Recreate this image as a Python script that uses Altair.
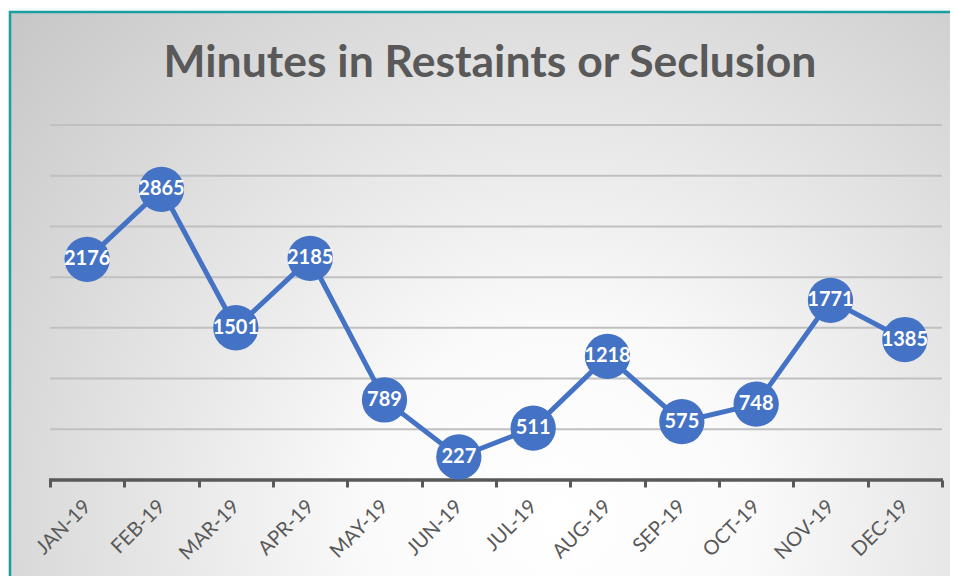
import altair as alt
import pandas as pd

months = ["JAN-19", "FEB-19", "MAR-19", "APR-19", "MAY-19", "JUN-19",
          "JUL-19", "AUG-19", "SEP-19", "OCT-19", "NOV-19", "DEC-19"]
minutes = [2176, 2865, 1501, 2185, 789, 227, 511, 1218, 575, 748, 1771, 1385]
grid_values = [500, 1000, 1500, 2000, 2500, 3000, 3500]
title_text = "Minutes in Restaints or Seclusion"

df = pd.DataFrame({"month": months, "minutes": minutes})
gdf = pd.DataFrame({"g": grid_values})

W, H = 892, 355
BLUE = "#4472C4"
GREY = "#595959"

x_scale = alt.Scale(domain=months, paddingInner=0, paddingOuter=0)
y_scale = alt.Scale(domain=[0, 3500])

x_enc = alt.X("month:N", sort=None, title=None, scale=x_scale,
              axis=alt.Axis(labelAngle=-45, labelFontSize=20, labelFont="Lato",
                            labelColor=GREY, domain=False, labelAlign="right",
                            labelBaseline="middle",
                            tickColor=GREY, tickWidth=3, tickSize=7, tickBand="extent",
                            labelPadding=16, grid=False, zindex=1))
y_enc = alt.Y("minutes:Q", title=None, scale=y_scale, axis=None)

frame = alt.Chart(pd.DataFrame({"a": [0]})).mark_rect(
    stroke="#1a9e9e", strokeWidth=2.5,
    fill={"gradient": "radial", "x1": 0.57, "y1": 0.72, "r1": 0.0,
          "x2": 0.57, "y2": 0.72, "r2": 0.8,
          "stops": [{"offset": 0, "color": "#ffffff"},
                    {"offset": 0.25, "color": "#fafafa"},
                    {"offset": 1, "color": "#c4c4c4"}]}
).encode(x=alt.value(-40), x2=alt.value(W + 30), y=alt.value(-113), y2=alt.value(H + 120))

grid = alt.Chart(gdf).mark_rule(color="#c0c0c0", strokeWidth=2).encode(
    y=alt.Y("g:Q", scale=y_scale, axis=None), x=alt.value(0), x2=alt.value(W))

domain_line = alt.Chart(pd.DataFrame({"z": [0]})).mark_rule(color=GREY, strokeWidth=3.5).encode(
    y=alt.Y("z:Q", scale=y_scale, axis=None), x=alt.value(-1), x2=alt.value(W + 1))

title = alt.Chart(pd.DataFrame({"t": [title_text]})).mark_text(
    font="Lato", fontWeight="bold", fontSize=44.5, color=GREY, align="center", baseline="middle"
).encode(text="t:N", x=alt.value(440), y=alt.value(-61))

base = alt.Chart(df)
line = base.mark_line(color=BLUE, strokeWidth=5).encode(x=x_enc, y=y_enc)
pts = base.mark_circle(color=BLUE, opacity=1, size=2050).encode(x=x_enc, y=y_enc)
labels = base.mark_text(color="white", font="Lato", fontWeight="bold", fontSize=20,
                        baseline="middle", align="center").encode(
    x=x_enc, y=y_enc, text="minutes:Q")

chart = alt.layer(frame, grid, domain_line, title, line, pts, labels).properties(
    width=W, height=H,
    padding={"left": 42, "top": 117, "right": 8, "bottom": 96},
    autosize=alt.AutoSizeParams(type="none"),
    background="#f4fbfb",
).configure_view(stroke=None)

chart.save("out.html", embed_options={"renderer": "svg", "actions": False})
